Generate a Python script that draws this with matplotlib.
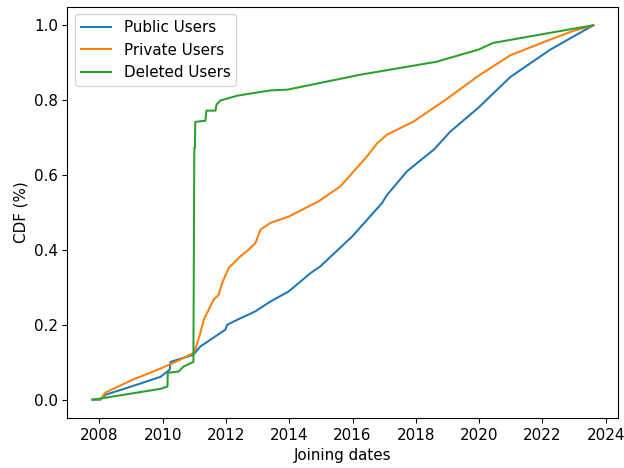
import numpy as np
import pandas as pd
import matplotlib
matplotlib.use('Agg')
import matplotlib.pyplot as plt

matplotlib.rcParams['font.size'] = 11.2

# joining date (decimal year) and cumulative share for each user group
public_years = [2007.78, 2008.03, 2008.19, 2009.0, 2009.93, 2010.22, 2010.25, 2010.97,
                2011.19, 2011.98, 2012.04, 2012.25, 2012.93, 2013.4, 2013.98, 2014.67,
                2014.98, 2015.99, 2016.93, 2017.09, 2017.72, 2018.04, 2018.57, 2019.09,
                2019.98, 2020.99, 2022.25, 2022.98, 2023.61]
public_cdf = [0.0, 0.0, 0.013, 0.035, 0.061, 0.08, 0.101, 0.12,
              0.142, 0.187, 0.2, 0.209, 0.236, 0.262, 0.289, 0.338,
              0.356, 0.436, 0.525, 0.547, 0.61, 0.632, 0.668, 0.716,
              0.78, 0.862, 0.935, 0.97, 1.0]

private_years = [2008.03, 2008.19, 2009.04, 2009.93, 2010.56, 2010.97, 2011.03, 2011.19,
                 2011.3, 2011.61, 2011.77, 2011.88, 2012.09, 2012.46, 2012.72, 2012.93,
                 2013.09, 2013.4, 2013.98, 2014.93, 2015.62, 2016.04, 2016.46, 2016.78,
                 2017.09, 2017.93, 2018.94, 2019.98, 2020.99, 2022.25, 2022.98, 2023.61]
private_cdf = [0.0, 0.019, 0.053, 0.083, 0.107, 0.125, 0.134, 0.178,
               0.214, 0.267, 0.28, 0.312, 0.352, 0.383, 0.401, 0.418,
               0.454, 0.472, 0.489, 0.53, 0.57, 0.61, 0.65, 0.685,
               0.708, 0.743, 0.801, 0.865, 0.92, 0.962, 0.985, 1.0]

deleted_years = [2007.78, 2008.03, 2009.93, 2010.15, 2010.16, 2010.5, 2010.65, 2010.97,
                 2011.0, 2011.02, 2011.03, 2011.35, 2011.38, 2011.67, 2011.7, 2011.82,
                 2012.36, 2013.4, 2013.94, 2014.98, 2016.25, 2017.92, 2018.68, 2018.87,
                 2019.98, 2020.45, 2020.99, 2022.25, 2023.61]
deleted_cdf = [0.0, 0.003, 0.029, 0.035, 0.072, 0.075, 0.088, 0.101,
               0.673, 0.673, 0.742, 0.745, 0.772, 0.772, 0.788, 0.799,
               0.812, 0.826, 0.828, 0.846, 0.868, 0.892, 0.903, 0.908,
               0.935, 0.953, 0.961, 0.98, 1.0]

labels = ['Public Users', 'Private Users', 'Deleted Users']


def to_dates(years):
    years = np.asarray(years)
    whole = np.floor(years).astype(int)
    starts = pd.to_datetime([f'{y}-01-01' for y in whole])
    return starts + pd.to_timedelta((years - whole) * 365.25, unit='D')


fig, ax = plt.subplots(figsize=(6.4, 4.8), dpi=97.5)
fig.subplots_adjust(left=0.108, right=0.991, top=0.986, bottom=0.106)

ax.plot(to_dates(public_years), public_cdf, label=labels[0])
ax.plot(to_dates(private_years), private_cdf, label=labels[1])
ax.plot(to_dates(deleted_years), deleted_cdf, label=labels[2])

ax.set_xlabel('Joining dates')
ax.set_ylabel('CDF (%)')
ax.legend(loc='upper left')

plt.savefig('out.png', dpi=97.5)
